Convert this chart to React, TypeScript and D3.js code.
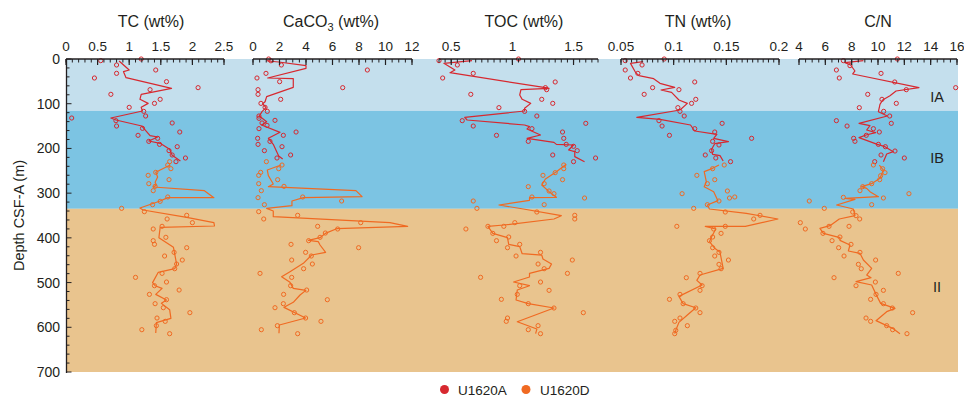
import React from "react";
import * as d3 from "d3";

type P = [number, number]; // [depth (m), value]

// ---------- DATA ----------
const TC_A_POINTS: P[] = [[0,1.19],[3.7,0.55],[13.4,0.80],[24.6,1.42],[32.1,0.80],[42.5,0.45],[50.7,1.59],[64.1,2.09],[68.6,1.33],[79.0,0.71],[90.2,1.49],[99.2,1.40],[108.1,1.00],[117.1,1.23],[127.5,1.26],[132.0,0.09],[137.9,0.79],[143.1,1.68],[149.9,0.80],[155.1,1.21],[163.3,1.80],[170.7,1.14],[177.4,1.45],[184.2,1.31],[190.9,1.48],[196.1,1.76],[205.0,1.63],[214.7,1.68],[221.4,1.89],[229.6,1.74]];
const TC_A_LINE: P[] = [[4.5,0.84],[24.6,1.00],[28.3,0.91],[41.8,0.95],[65.6,1.67],[79.0,1.19],[90.2,1.17],[99.2,1.30],[108.1,1.19],[116.3,1.21],[132.0,0.71],[136.4,0.79],[149.9,1.20],[171.5,1.33],[174.5,1.45],[183.4,1.31],[188.6,1.49],[202.0,1.64],[215.5,1.68],[228.1,1.81]];
const TC_D_POINTS: P[] = [[229.6,1.64],[237.1,1.61],[245.3,1.66],[253.5,1.42],[260.2,1.30],[269.9,1.63],[278.8,1.31],[284.8,1.41],[294.5,1.38],[308.6,1.61],[318.3,1.49],[325.8,1.37],[334.0,0.88],[341.4,1.24],[349.6,1.91],[357.8,1.60],[366.0,2.00],[374.2,1.52],[380.2,1.38],[398.8,1.58],[406.3,1.38],[414.5,1.40],[422.0,1.91],[432.4,1.71],[440.6,1.56],[449.6,1.84],[458.5,1.75],[469.0,1.72],[479.4,1.52],[488.4,1.10],[498.8,1.59],[507.0,1.40],[516.7,1.79],[526.4,1.32],[538.3,1.59],[547.2,1.41],[556.2,1.54],[567.3,1.96],[579.3,1.44],[586.7,1.57],[596.4,1.43],[605.4,1.20],[614.3,1.64]];
const TC_D_LINE: P[] = [[237.1,1.65],[248.3,1.49],[253.5,1.42],[263.9,1.45],[275.8,1.41],[281.8,1.43],[286.3,1.38],[294.5,2.19],[310.1,2.34],[310.1,1.61],[317.6,1.49],[333.2,1.17],[337.7,1.22],[354.1,1.91],[366.0,2.34],[373.5,2.35],[376.5,1.49],[399.6,1.47],[421.2,1.70],[458.5,1.75],[469.0,1.72],[477.1,1.46],[500.2,1.37],[507.0,1.41],[512.9,1.52],[526.4,1.42],[539.0,1.59],[546.5,1.51],[560.6,1.64],[580.0,1.66],[589.7,1.43],[612.8,1.42]];

const CA_A_POINTS: P[] = [[0,1.18],[4.0,1.35],[13.4,2.14],[24.6,8.63],[32.1,0.98],[42.5,0.30],[50.7,2.01],[64.1,6.77],[68.6,0.38],[79.0,0.38],[90.2,2.09],[99.2,0.60],[108.1,0.91],[117.1,1.08],[127.5,0.45],[132.7,0.45],[137.2,1.66],[143.1,0.68],[148.4,1.06],[155.8,0.45],[163.3,3.25],[170.7,2.29],[177.4,0.35],[184.2,1.28],[190.9,0.38],[196.1,2.19],[205.0,0.86],[214.7,2.84],[221.4,1.81]];
const CA_A_LINE: P[] = [[4.5,1.11],[6.7,1.94],[14.9,4.0],[20.9,4.0],[42.5,1.11],[44.0,3.04],[63.4,3.04],[84.2,1.03],[95.5,0.91],[99.9,0.73],[108.9,0.98],[117.8,0.68],[127.5,0.48],[140.2,1.03],[147.6,0.65],[164.0,2.04],[177.4,1.16],[190.9,1.53],[207.2,1.79],[216.9,1.94],[223.7,2.24]];
const CA_D_POINTS: P[] = [[229.6,1.01],[237.1,2.19],[245.3,1.94],[253.5,0.58],[260.2,0.43],[269.9,1.86],[278.8,0.43],[284.8,2.34],[294.5,0.63],[308.6,3.75],[310.1,0.38],[317.6,6.69],[325.8,0.86],[341.4,0.43],[349.6,3.37],[357.8,0.81],[366.0,8.13],[374.2,4.88],[380.2,6.39],[389.2,5.46],[398.8,5.06],[406.3,4.20],[414.5,2.87],[422.0,7.97],[432.4,3.97],[440.6,4.40],[449.6,2.92],[458.5,4.48],[469.0,3.82],[479.4,0.53],[488.4,2.92],[507.0,2.84],[516.7,4.05],[526.4,2.31],[538.3,5.61],[547.2,2.29],[556.2,1.66],[567.3,3.12],[579.3,3.97],[586.7,5.13],[596.4,1.84],[605.4,0.63],[614.3,3.37]];
const CA_D_LINE: P[] = [[237.1,2.11],[248.3,1.08],[260.9,1.16],[279.6,1.53],[285.5,1.16],[294.5,7.77],[307.9,8.23],[310.1,3.80],[317.6,2.94],[328.0,2.94],[334.0,1.03],[340.0,1.53],[352.6,1.53],[366.0,10.34],[374.2,11.67],[379.5,6.31],[389.9,5.46],[399.6,5.06],[405.6,4.18],[408.5,4.93],[416.0,5.06],[432.4,5.48],[438.4,4.43],[457.0,3.80],[475.6,2.79],[486.8,2.16],[499.5,2.79],[512.9,3.04],[517.4,3.99],[527.8,3.55],[544.2,3.04],[555.4,2.34],[579.3,3.97],[594.9,1.99],[613.5,1.96]];

const TOC_A_POINTS: P[] = [[0,1.05],[3.7,0.40],[13.4,0.55],[32.1,0.68],[42.5,0.43],[51.4,1.35],[64.1,1.27],[68.6,1.28],[79.0,0.66],[90.2,1.24],[99.2,1.33],[108.8,0.89],[117.1,1.10],[127.5,1.20],[137.9,0.59],[143.9,1.60],[149.9,0.68],[155.8,1.16],[163.3,1.41],[170.7,0.87],[177.4,1.42],[184.2,1.13],[190.9,1.44],[195.3,1.50],[205.0,1.53],[214.7,1.33],[221.4,1.68],[229.6,1.50]];
const TOC_A_LINE: P[] = [[3.7,0.67],[9.7,0.44],[24.6,0.53],[30.6,0.49],[64.1,1.27],[65.6,1.30],[68.6,1.07],[80.5,1.06],[90.2,1.08],[99.2,1.15],[110.3,1.10],[116.3,1.10],[130.5,0.61],[136.4,0.63],[147.6,1.10],[151.3,1.14],[156.6,1.12],[170.0,1.23],[177.4,1.12],[186.4,1.34],[190.9,1.36],[192.3,1.50],[203.5,1.46],[207.2,1.51],[218.4,1.51],[229.6,1.59]];
const TOC_D_POINTS: P[] = [[237.1,1.42],[245.3,1.42],[254.2,1.35],[260.2,1.25],[269.9,1.41],[278.8,1.26],[285.5,1.13],[295.2,1.30],[301.2,1.34],[308.6,1.16],[310.9,1.59],[317.6,0.68],[325.8,1.26],[334.0,0.71],[342.2,1.20],[349.6,1.51],[357.8,1.51],[366.0,1.02],[374.2,0.93],[374.2,0.80],[380.2,0.62],[389.9,0.84],[398.1,0.97],[406.3,0.87],[414.5,1.06],[422.0,0.96],[432.4,1.23],[440.6,1.03],[449.6,1.49],[458.5,1.21],[469.0,1.26],[479.4,1.45],[488.3,0.74],[498.8,1.23],[507.0,1.06],[517.4,1.30],[526.4,1.04],[537.5,0.91],[547.2,1.13],[556.9,1.34],[567.3,1.58],[579.3,0.96],[586.7,0.95],[596.4,1.21],[605.4,1.13],[614.3,1.23]];
const TOC_D_LINE: P[] = [[235.6,1.44],[252.0,1.36],[268.4,1.27],[281.8,1.24],[296.7,1.30],[309.4,1.36],[310.1,1.14],[316.1,1.14],[326.5,0.89],[335.5,1.09],[350.4,1.40],[357.8,1.34],[371.3,0.93],[374.2,0.80],[389.9,0.84],[399.6,0.96],[414.5,0.97],[419.7,1.06],[435.4,1.08],[438.4,1.24],[447.3,1.25],[458.5,1.32],[468.2,1.30],[479.4,1.14],[487.6,1.14],[498.8,1.01],[507.0,1.14],[516.7,1.04],[539.0,1.03],[547.2,1.13],[556.9,1.34],[587.5,1.04],[603.9,1.20],[614.3,1.19]];

const TN_A_POINTS: P[] = [[0,0.091],[3.7,0.054],[13.4,0.070],[24.6,0.054],[32.1,0.066],[42.5,0.059],[51.4,0.120],[64.1,0.080],[68.6,0.105],[79.0,0.072],[90.2,0.121],[99.2,0.117],[108.8,0.104],[117.1,0.106],[127.5,0.110],[137.9,0.086],[143.9,0.146],[149.9,0.089],[155.8,0.120],[163.3,0.139],[170.7,0.096],[177.4,0.174],[184.2,0.137],[192.3,0.143],[205.0,0.136],[214.7,0.130],[221.4,0.140],[229.6,0.154]];
const TN_A_LINE: P[] = [[6.0,0.071],[9.7,0.059],[30.6,0.064],[37.3,0.067],[44.0,0.081],[54.4,0.087],[63.4,0.101],[69.3,0.088],[74.6,0.098],[91.7,0.105],[99.2,0.113],[114.1,0.106],[130.5,0.065],[134.9,0.087],[147.6,0.116],[161.0,0.120],[168.5,0.141],[177.4,0.138],[184.9,0.152],[189.4,0.139],[202.0,0.136],[213.2,0.137],[216.2,0.144],[228.1,0.147]];
const TN_D_POINTS: P[] = [[237.1,0.148],[245.3,0.137],[260.2,0.122],[269.9,0.139],[278.8,0.132],[295.2,0.151],[301.2,0.108],[308.6,0.158],[310.9,0.153],[317.6,0.143],[325.8,0.132],[334.0,0.119],[342.2,0.149],[349.6,0.182],[357.8,0.176],[374.2,0.103],[374.2,0.149],[380.2,0.138],[389.9,0.145],[398.1,0.137],[406.3,0.134],[422.0,0.137],[432.4,0.143],[440.6,0.139],[449.6,0.152],[459.2,0.143],[469.0,0.145],[479.4,0.125],[489.1,0.112],[507.0,0.127],[517.4,0.125],[526.4,0.106],[537.5,0.096],[547.2,0.109],[556.9,0.121],[567.3,0.125],[579.3,0.106],[586.7,0.101],[596.4,0.113],[606.8,0.102],[614.3,0.101]];
const TN_D_LINE: P[] = [[237.1,0.143],[244.5,0.137],[252.0,0.129],[274.3,0.131],[285.5,0.129],[296.7,0.138],[316.8,0.142],[326.5,0.132],[335.5,0.134],[345.2,0.169],[357.8,0.199],[374.2,0.168],[374.2,0.130],[380.2,0.140],[397.4,0.136],[408.5,0.134],[423.4,0.139],[432.4,0.144],[468.2,0.147],[483.1,0.125],[495.0,0.122],[505.5,0.127],[530.8,0.105],[547.2,0.109],[556.2,0.121],[572.6,0.113],[589.0,0.105],[606.8,0.102],[614.3,0.101]];

const CN_A_POINTS: P[] = [[0,11.47],[3.7,7.37],[14.9,7.87],[24.6,6.84],[32.1,10.23],[42.5,7.06],[51.4,11.27],[64.1,15.90],[68.6,12.15],[79.0,9.22],[90.2,10.30],[99.2,11.39],[108.8,8.58],[117.1,10.43],[127.5,10.89],[137.9,6.84],[143.9,11.01],[149.9,7.65],[155.8,9.65],[163.3,10.10],[170.7,9.11],[177.4,8.15],[184.1,8.25],[190.9,10.03],[196.1,10.56],[205.8,11.29],[214.7,10.23],[221.4,12.0],[229.6,9.75]];
const CN_A_LINE: P[] = [[3.7,8.89],[8.2,7.49],[13.4,7.92],[26.8,8.25],[33.5,8.08],[64.1,13.11],[71.6,11.37],[82.0,10.91],[91.7,10.35],[101.4,10.15],[117.8,10.03],[127.5,10.71],[143.9,8.56],[149.1,9.39],[158.8,9.14],[164.8,9.82],[170.0,9.09],[175.9,8.56],[190.9,9.95],[196.1,10.53],[207.2,11.16],[212.5,10.66],[229.6,10.41]];
const CN_D_POINTS: P[] = [[237.1,9.65],[245.3,10.35],[254.2,10.53],[261.0,10.2],[269.9,10.13],[278.8,9.52],[285.5,8.84],[294.5,8.63],[301.2,12.35],[309.4,7.37],[310.9,10.41],[317.6,4.78],[325.8,9.52],[334.0,5.92],[342.2,8.08],[350.4,8.33],[357.8,8.61],[366.0,4.10],[374.2,6.28],[374.2,7.80],[380.2,4.48],[389.9,5.82],[398.1,7.11],[406.3,6.51],[414.5,7.95],[422.0,7.01],[432.4,8.63],[440.6,7.42],[449.6,9.82],[459.2,8.51],[469.0,8.73],[479.4,11.54],[489.1,6.66],[498.8,9.80],[507.0,8.33],[517.4,10.41],[526.4,9.85],[537.5,9.44],[547.2,10.41],[556.9,11.09],[567.3,12.63],[579.3,9.09],[586.7,9.44],[596.4,10.66],[605.4,11.11],[614.3,12.20]];
const CN_D_LINE: P[] = [[237.1,10.10],[248.3,10.41],[266.9,10.15],[278.1,9.57],[285.5,8.76],[289.3,9.14],[296.7,9.39],[307.9,10.03],[311.6,7.49],[313.9,8.25],[326.5,6.86],[335.5,8.13],[350.4,8.25],[357.8,7.06],[372.8,6.35],[378.7,5.59],[389.9,5.85],[399.6,7.11],[405.6,7.11],[416.0,7.87],[429.4,7.75],[434.6,8.63],[449.5,8.89],[468.2,9.52],[483.1,9.14],[489.1,9.47],[498.0,8.33],[505.5,9.52],[526.4,9.85],[546.5,10.20],[557.6,11.29],[565.1,10.66],[585.2,9.85],[602.4,11.11],[614.3,11.67]];

const SERIES_NAMES = ["U1620A", "U1620D"];
const UNIT_NAMES = [
  { name: "IA", top: 0, bottom: 116, labelDepth: 85 },
  { name: "IB", top: 116, bottom: 335, labelDepth: 222 },
  { name: "II", top: 335, bottom: 700, labelDepth: 510 },
];
const DEPTH_TICKS = [0, 100, 200, 300, 400, 500, 600, 700];

const PANEL_DEFS = [
  { title: "TC (wt%)", domain: [0, 2.5], majors: [0, 0.5, 1, 1.5, 2, 2.5], labels: ["0", "0.5", "1", "1.5", "2", "2.5"], minor: 0.1, aPts: TC_A_POINTS, aLine: TC_A_LINE, dPts: TC_D_POINTS, dLine: TC_D_LINE },
  { title: "CaCO3 (wt%)", domain: [0, 12], majors: [0, 2, 4, 6, 8, 10, 12], labels: ["0", "2", "4", "6", "8", "10", "12"], minor: 0.5, aPts: CA_A_POINTS, aLine: CA_A_LINE, dPts: CA_D_POINTS, dLine: CA_D_LINE },
  { title: "TOC (wt%)", domain: [0.4, 1.7], majors: [0.5, 1, 1.5], labels: ["0.5", "1", "1.5"], minor: 0.05, aPts: TOC_A_POINTS, aLine: TOC_A_LINE, dPts: TOC_D_POINTS, dLine: TOC_D_LINE },
  { title: "TN (wt%)", domain: [0.05, 0.2], majors: [0.05, 0.1, 0.15, 0.2], labels: ["0.05", "0.1", "0.15", "0.2"], minor: 0.005, aPts: TN_A_POINTS, aLine: TN_A_LINE, dPts: TN_D_POINTS, dLine: TN_D_LINE },
  { title: "C/N", domain: [4, 16], majors: [4, 6, 8, 10, 12, 14, 16], labels: ["4", "6", "8", "10", "12", "14", "16"], minor: 0.5, aPts: CN_A_POINTS, aLine: CN_A_LINE, dPts: CN_D_POINTS, dLine: CN_D_LINE },
];

// ---------- LAYOUT ----------
const W = 964, H = 398;
const PLOT_TOP = 59, PLOT_BOTTOM = 372;
const PANEL_X: [number, number][] = [[66, 224], [253, 412], [439, 598], [621, 779], [799, 957]];
const TITLE_X = [151, 331, 524, 698, 878];
const BAND_LEFT = 66, BAND_RIGHT = 958;
const BAND_COLORS = ["#c4dfed", "#7cc4e3", "#e9c48e"];
const RED = "#d7282f";
const ORANGE = "#f06a22";
const INK = "#231f20";
const FONT = "'Liberation Sans', Arial, Helvetica, sans-serif";

export default function App() {
  const y = d3.scaleLinear().domain([0, 700]).range([PLOT_TOP, PLOT_BOTTOM]);
  const depthMinor = d3.range(0, 701, 20);

  return (
    <svg width={W} height={H} style={{ position: "absolute", left: 0, top: 0, background: "#fff" }} fontFamily={FONT}>
      {/* unit bands */}
      {UNIT_NAMES.map((u, i) => (
        <rect key={u.name} x={BAND_LEFT} y={y(u.top)} width={BAND_RIGHT - BAND_LEFT} height={y(u.bottom) - y(u.top)} fill={BAND_COLORS[i]} />
      ))}
      {UNIT_NAMES.map((u) => (
        <text key={"l" + u.name} x={937} y={y(u.labelDepth)} textAnchor="middle" dominantBaseline="central" fontSize={14.5} fill={INK}>
          {u.name}
        </text>
      ))}

      {/* depth axis */}
      <line x1={66.5} x2={66.5} y1={PLOT_TOP} y2={PLOT_BOTTOM + 1} stroke={INK} strokeWidth={1.3} />
      {depthMinor.map((d) => (
        <line key={"dm" + d} x1={66.5} x2={d % 100 === 0 ? 71.5 : 69.5} y1={y(d)} y2={y(d)} stroke={INK} strokeWidth={1} />
      ))}
      {DEPTH_TICKS.map((d) => (
        <text key={"dt" + d} x={60} y={y(d)} textAnchor="end" dominantBaseline="central" fontSize={14} fill={INK}>
          {d}
        </text>
      ))}
      <text transform={`translate(19,${(PLOT_TOP + PLOT_BOTTOM) / 2}) rotate(-90)`} textAnchor="middle" dominantBaseline="central" fontSize={14.5} fill={INK}>
        Depth CSF-A (m)
      </text>

      {PANEL_DEFS.map((p, i) => {
        const [x0, x1] = PANEL_X[i];
        const x = d3.scaleLinear().domain(p.domain).range([x0, x1]);
        const n = Math.round((p.domain[1] - p.domain[0]) / p.minor);
        const minors = d3.range(0, n + 1).map((k) => p.domain[0] + k * p.minor);
        const line = d3.line<P>().x((d) => x(d[1])).y((d) => y(d[0]));
        return (
          <g key={p.title}>
            {/* series */}
            <path d={line(p.aLine) || ""} fill="none" stroke={RED} strokeWidth={1.2} strokeLinejoin="round" />
            <path d={line(p.dLine) || ""} fill="none" stroke={ORANGE} strokeWidth={1.2} strokeLinejoin="round" />
            {p.aPts.map((d, k) => (
              <circle key={"a" + k} cx={x(d[1])} cy={y(d[0])} r={2.1} fill="none" stroke={RED} strokeWidth={1} />
            ))}
            {p.dPts.map((d, k) => (
              <circle key={"d" + k} cx={x(d[1])} cy={y(d[0])} r={2.1} fill="none" stroke={ORANGE} strokeWidth={1} />
            ))}
            {/* top axis */}
            <line x1={x0} x2={x1} y1={PLOT_TOP} y2={PLOT_TOP} stroke={INK} strokeWidth={1.4} />
            {minors.map((v, k) => (
              <line key={"m" + k} x1={x(v)} x2={x(v)} y1={PLOT_TOP} y2={PLOT_TOP + 3.5} stroke={INK} strokeWidth={1} />
            ))}
            {p.majors.map((v, k) => (
              <g key={"M" + k}>
                <line x1={x(v)} x2={x(v)} y1={PLOT_TOP} y2={PLOT_TOP + 6} stroke={INK} strokeWidth={1.2} />
                <text x={x(v)} y={51} textAnchor="middle" fontSize={13.5} fill={INK}>
                  {p.labels[k]}
                </text>
              </g>
            ))}
            <text x={TITLE_X[i]} y={27} textAnchor="middle" fontSize={16} fill={INK}>
              {p.title.startsWith("CaCO3") ? (
                <>
                  CaCO<tspan fontSize={11} dy={4}>3</tspan>
                  <tspan dy={-4}> (wt%)</tspan>
                </>
              ) : (
                p.title
              )}
            </text>
          </g>
        );
      })}

      {/* legend */}
      <circle cx={444.5} cy={389.5} r={4.5} fill={RED} />
      <text x={458} y={394.5} fontSize={13.5} fill={INK}>{SERIES_NAMES[0]}</text>
      <circle cx={526} cy={389.5} r={4.5} fill={ORANGE} />
      <text x={540} y={394.5} fontSize={13.5} fill={INK}>{SERIES_NAMES[1]}</text>
    </svg>
  );
}
